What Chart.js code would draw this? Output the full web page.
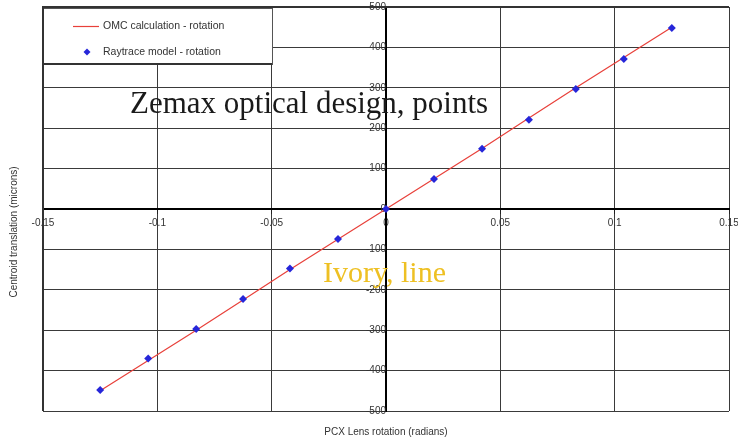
<!DOCTYPE html>
<html>
<head>
<meta charset="utf-8">
<script src="https://cdn.jsdelivr.net/npm/chart.js@4.4.0/dist/chart.umd.min.js"></script>
<style>
  body { margin: 0; background: #fff; }
  #wrap { width: 738px; height: 440px; }
</style>
</head>
<body>
<div id="wrap"><canvas id="mycanvas" width="738" height="440"></canvas></div>
<script>
// values
var rotation = [-0.125, -0.104, -0.083, -0.0625, -0.042, -0.021, 0, 0.021, 0.042, 0.0625, 0.083, 0.104, 0.125];
var omcValues = [-450, -375, -300, -225, -150, -75, 0, 75, 150, 225, 300, 375, 450];
var raytraceValues = [-448, -370, -297, -223, -147, -74, 0, 74, 149, 221, 297, 371, 448];
var xTicks = [-0.15, -0.1, -0.05, 0, 0.05, 0.1, 0.15];
var yTicks = [-500, -400, -300, -200, -100, 0, 100, 200, 300, 400, 500];
var seriesNames = ['OMC calculation - rotation', 'Raytrace model - rotation'];
var xTitle = 'PCX Lens rotation (radians)';
var yTitle = 'Centroid translation (microns)';
var notes = ['Zemax optical design, points', 'Ivory, line'];

function toPoints(xs, ys) {
	var pts = [];
	for (var i in xs) {
		pts.push({x: xs[i], y: ys[i]});
	}
	return pts;
}

// centre axes should not push the plot area in
function noPadding(scale) {
	scale.paddingLeft = 0;
	scale.paddingRight = 0;
	scale.paddingTop = 0;
	scale.paddingBottom = 0;
}

var tickFont = {family: 'Liberation Sans, Arial, sans-serif', size: 10};

var extras = {
	id: 'extras',
	afterDraw: function(chart) {
		var ctx = chart.ctx;
		var a = chart.chartArea;
		var ds = chart.data.datasets;
		ctx.save();

		// heavier frame on left and top
		ctx.strokeStyle = '#333';
		ctx.lineWidth = 2;
		ctx.beginPath();
		ctx.moveTo(a.left, a.bottom);
		ctx.lineTo(a.left, a.top);
		ctx.lineTo(a.right, a.top);
		ctx.stroke();

		// legend box
		var lx = a.left, ly = a.top + 1, lw = 229, lh = 56;
		ctx.fillStyle = '#fff';
		ctx.fillRect(lx, ly, lw, lh);
		ctx.strokeStyle = '#555';
		ctx.lineWidth = 1;
		ctx.strokeRect(lx + 0.5, ly + 0.5, lw, lh);
		ctx.strokeStyle = '#333';
		ctx.lineWidth = 2;
		ctx.beginPath();
		ctx.moveTo(lx, ly);
		ctx.lineTo(lx, ly + lh);
		ctx.lineTo(lx + lw, ly + lh);
		ctx.stroke();

		ctx.font = '10.5px Liberation Sans, Arial, sans-serif';
		ctx.textBaseline = 'middle';
		ctx.textAlign = 'left';
		// line entry
		ctx.strokeStyle = ds[0].borderColor;
		ctx.lineWidth = 1.2;
		ctx.beginPath();
		ctx.moveTo(lx + 30, ly + 18.5);
		ctx.lineTo(lx + 56, ly + 18.5);
		ctx.stroke();
		ctx.fillStyle = '#333';
		ctx.fillText(ds[0].label, lx + 60, ly + 18);
		// marker entry
		ctx.fillStyle = ds[1].backgroundColor;
		ctx.beginPath();
		ctx.moveTo(lx + 44, ly + 40.5);
		ctx.lineTo(lx + 47.5, ly + 44);
		ctx.lineTo(lx + 44, ly + 47.5);
		ctx.lineTo(lx + 40.5, ly + 44);
		ctx.closePath();
		ctx.fill();
		ctx.fillStyle = '#333';
		ctx.fillText(ds[1].label, lx + 60, ly + 44);

		// axis titles
		ctx.font = '10px Liberation Sans, Arial, sans-serif';
		ctx.textAlign = 'center';
		ctx.fillText(xTitle, (a.left + a.right) / 2, 432);
		ctx.save();
		ctx.translate(14, 232);
		ctx.rotate(-Math.PI / 2);
		ctx.fillText(yTitle, 0, 0);
		ctx.restore();

		// overlay notes
		ctx.textAlign = 'left';
		ctx.textBaseline = 'alphabetic';
		ctx.font = '31px Liberation Serif, Times New Roman, serif';
		ctx.fillStyle = '#1a1a1a';
		ctx.fillText(notes[0], 130, 113);
		ctx.font = '30px Liberation Serif, Times New Roman, serif';
		ctx.fillStyle = '#eec023';
		ctx.fillText(notes[1], 323, 282);

		ctx.restore();
	}
};

var chartdata = {
	datasets: [
		{
			label: seriesNames[0],
			data: toPoints(rotation, omcValues),
			showLine: true,
			borderColor: '#e8403a',
			backgroundColor: '#e8403a',
			borderWidth: 1.2,
			pointRadius: 0,
			order: 2
		},
		{
			label: seriesNames[1],
			data: toPoints(rotation, raytraceValues),
			showLine: false,
			pointStyle: 'rectRot',
			pointRadius: 4,
			borderWidth: 0,
			backgroundColor: '#2626d9',
			borderColor: '#2626d9',
			order: 1
		}
	]
};

var ctx = document.getElementById('mycanvas');

var scatterGraph = new Chart(ctx, {
	type: 'scatter',
	data: chartdata,
	plugins: [extras],
	options: {
		responsive: false,
		animation: false,
		layout: {padding: {left: 43, right: 9, top: 7, bottom: 29}},
		plugins: {
			legend: {display: false},
			tooltip: {enabled: false}
		},
		scales: {
			x: {
				type: 'linear',
				position: {y: 0},
				min: -0.15,
				max: 0.15,
				afterBuildTicks: function(axis) {
					axis.ticks = xTicks.map(function(v) { return {value: v}; });
				},
				afterFit: noPadding,
				ticks: {
					color: '#333',
					font: tickFont,
					padding: 4,
					maxRotation: 0,
					callback: function(v) { return String(v); }
				},
				grid: {color: '#3a3a3a', lineWidth: 1, tickLength: 4, tickColor: '#222'},
				border: {color: '#000', width: 2}
			},
			y: {
				type: 'linear',
				position: {x: 0},
				min: -500,
				max: 500,
				afterBuildTicks: function(axis) {
					axis.ticks = yTicks.map(function(v) { return {value: v}; });
				},
				afterFit: noPadding,
				ticks: {
					color: '#333',
					font: tickFont,
					padding: 0,
					callback: function(v) { return String(v); }
				},
				grid: {color: '#3a3a3a', lineWidth: 1, tickLength: 4, tickColor: '#222'},
				border: {color: '#000', width: 2}
			}
		}
	}
});
</script>
</body>
</html>
